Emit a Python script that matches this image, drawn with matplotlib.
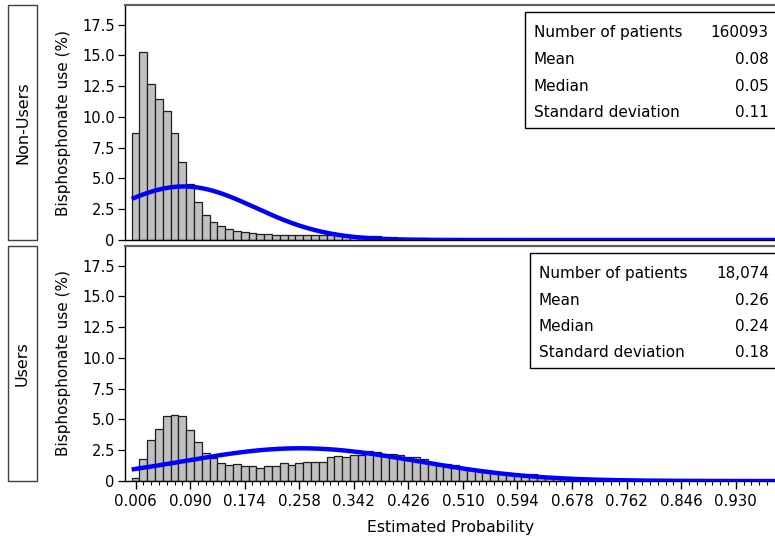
import matplotlib.pyplot as plt
import numpy as np
from matplotlib.patches import Rectangle

# histogram percentages per bin (bin width 0.012, first bin centred at 0.006)
bin_width = 0.012
first_center = 0.006

nonusers_pct = [8.7, 15.3, 12.7, 11.45, 10.45, 8.7, 6.35, 4.55, 3.05, 2.05,
                1.45, 1.15, 0.88, 0.74, 0.63, 0.55, 0.50, 0.46, 0.43, 0.42,
                0.41, 0.41, 0.40, 0.40, 0.39, 0.39, 0.38, 0.37, 0.36, 0.35,
                0.30, 0.29, 0.28, 0.26, 0.18, 0.17, 0.16, 0.15, 0.11, 0.10,
                0.09, 0.08, 0.04, 0.03, 0.02]
users_pct = [0.27, 1.82, 3.33, 4.23, 5.28, 5.37, 5.31, 4.15, 3.17, 2.30,
             1.90, 1.49, 1.27, 1.41, 1.25, 1.25, 1.08, 1.25, 1.25, 1.44,
             1.33, 1.44, 1.52, 1.57, 1.57, 1.98, 2.03, 1.92, 2.11, 2.14,
             2.41, 2.33, 2.20, 2.20, 2.11, 1.95, 1.95, 1.76, 1.54, 1.41,
             1.41, 1.30, 1.08, 0.98, 0.92, 0.81, 0.70, 0.60, 0.51, 0.51,
             0.43, 0.57, 0.40, 0.33, 0.27, 0.22, 0.18, 0.15, 0.12, 0.09,
             0.08, 0.07, 0.06, 0.05, 0.04, 0.03, 0.03, 0.02, 0.02]

groups = ['Non-Users', 'Users']
n_patients = ['160093', '18,074']
means = [0.08, 0.26]
medians = [0.05, 0.24]
sds = [0.11, 0.18]
stat_names = ['Number of patients', 'Mean', 'Median', 'Standard deviation']

xticks = [0.006, 0.090, 0.174, 0.258, 0.342, 0.426, 0.510, 0.594, 0.678,
          0.762, 0.846, 0.930]
yticks = [0, 2.5, 5.0, 7.5, 10.0, 12.5, 15.0, 17.5]
ytick_labels = ['0', '2.5', '5.0', '7.5', '10.0', '12.5', '15.0', '17.5']

xmin, xmax = -0.011, 0.992
ymax = 19.1

plt.rcParams['font.family'] = 'DejaVu Sans'

W, H = 775, 545
fig = plt.figure(figsize=(W / 100, H / 100), dpi=100)
fig.set_facecolor('w')

def fx(px):
    return px / W

def fy(py):
    return 1 - py / H

# axes boxes in pixels: (left, top, right, bottom)
panels = [(124.5, 5, 776, 240), (124.5, 246, 776, 481)]
stat_boxes = [dict(left=0.614, label_x=0.628, top=0.970, bottom=0.477,
                   rows=[0.884, 0.769, 0.655, 0.542]),
              dict(left=0.622, label_x=0.636, top=0.970, bottom=0.481,
                   rows=[0.881, 0.767, 0.657, 0.546])]

for i, (pct, name) in enumerate(zip([nonusers_pct, users_pct], groups)):
    l, t, r, b = panels[i]
    ax = fig.add_axes([fx(l), fy(b), fx(r - l), (b - t) / H])

    centers = first_center + bin_width * np.arange(len(pct))
    ax.bar(centers, pct, width=bin_width, color='#c0c0c0',
           edgecolor='#1e1e1e', linewidth=0.9, zorder=2)

    # normal curve scaled to percent per bin
    xs = np.linspace(0, xmax, 600)
    pdf = np.exp(-0.5 * ((xs - means[i]) / sds[i]) ** 2) / (sds[i] * np.sqrt(2 * np.pi))
    ax.plot(xs, pdf * bin_width * 100, color='#0000ff', lw=3.2, zorder=3,
            solid_capstyle='butt')

    ax.set_xlim(xmin, xmax)
    ax.set_ylim(0, ymax)
    ax.set_yticks(yticks)
    ax.set_yticklabels(ytick_labels, fontsize=10.5)
    ax.tick_params(axis='y', length=5, width=0.9, pad=2)
    ax.set_ylabel('Bisphosphonate use (%)', fontsize=11, labelpad=8)

    ax.spines['right'].set_visible(False)
    ax.spines['top'].set_color('#606060')
    ax.spines['top'].set_linewidth(1.6)
    for s in ['left', 'bottom']:
        ax.spines[s].set_linewidth(1.0)

    if i == 0:
        ax.set_xticks([])
    else:
        ax.set_xticks(xticks)
        ax.set_xticklabels(['%.3f' % v for v in xticks], fontsize=10.8)
        ax.set_xticks(first_center + bin_width * np.arange(83), minor=True)
        ax.tick_params(axis='x', which='major', length=6, width=1.0, pad=3)
        ax.tick_params(axis='x', which='minor', length=3, width=0.8)
        ax.set_xlabel('Estimated Probability', fontsize=11.3, labelpad=8)

    # statistics table in the upper right
    sb = stat_boxes[i]
    ax.add_patch(Rectangle((sb['left'], sb['bottom']), 1.05 - sb['left'],
                           sb['top'] - sb['bottom'], transform=ax.transAxes,
                           facecolor='w', edgecolor='k', lw=1.0,
                           clip_on=False, zorder=5))
    values = [n_patients[i], '%.2f' % means[i], '%.2f' % medians[i],
              '%.2f' % sds[i]]
    for yv, lab, val in zip(sb['rows'], stat_names, values):
        ax.text(sb['label_x'], yv, lab, transform=ax.transAxes, fontsize=11,
                va='center', ha='left', zorder=6)
        ax.text(0.989, yv, val, transform=ax.transAxes, fontsize=11,
                va='center', ha='right', zorder=6)

    # group label box on the left
    fig.patches.append(Rectangle((fx(8), fy(b)), fx(29), (b - t) / H,
                                 transform=fig.transFigure, facecolor='w',
                                 edgecolor='#404040', lw=1.0))
    fig.text(fx(22.5), fy((t + b) / 2), name, rotation=90, ha='center',
             va='center', fontsize=11.5)

fig.savefig('out.png', dpi=100)
